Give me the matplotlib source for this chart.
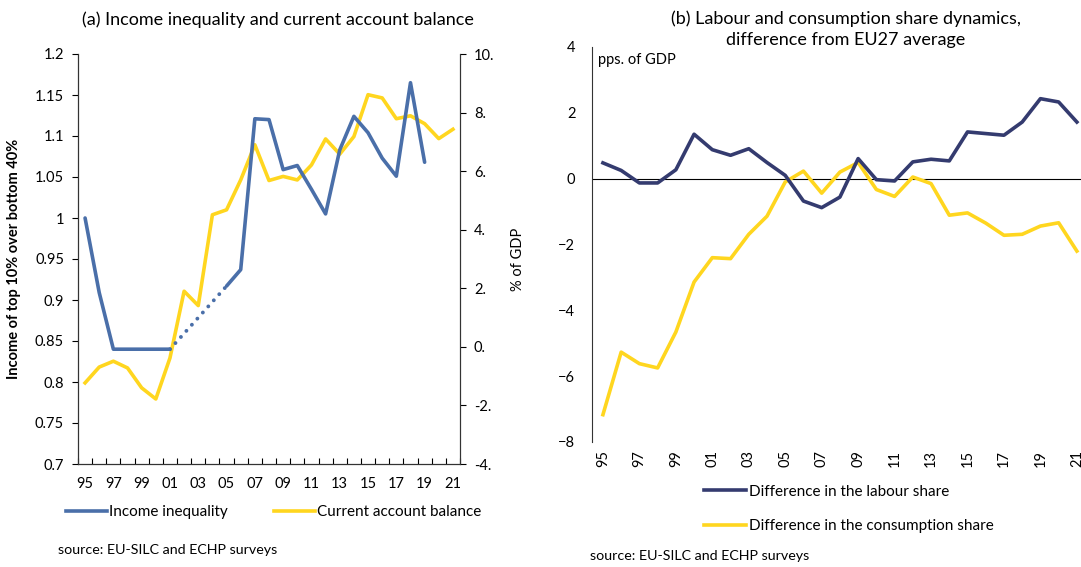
import matplotlib
matplotlib.use("Agg")
import matplotlib.pyplot as plt
import numpy as np
from matplotlib.ticker import FuncFormatter, MultipleLocator

plt.rcParams['font.family'] = ['Lato', 'DejaVu Sans']
plt.rcParams['font.size'] = 10.5

# data
years = ["95", "96", "97", "98", "99", "00", "01", "02", "03", "04", "05", "06", "07",
         "08", "09", "10", "11", "12", "13", "14", "15", "16", "17", "18", "19", "20", "21"]
inequality = [1.0, 0.909, 0.84, 0.84, 0.84, 0.84, 0.84, np.nan, np.nan, np.nan, 0.917, 0.937, 1.121,
              1.12, 1.059, 1.064, 1.035, 1.005, 1.083, 1.124, 1.104, 1.073, 1.051, 1.165, 1.068,
              np.nan, np.nan]
current_account = [-1.23, -0.69, -0.49, -0.72, -1.40, -1.78, -0.38, 1.90, 1.41, 4.51, 4.68, 5.70, 6.90,
                   5.68, 5.82, 5.70, 6.21, 7.10, 6.58, 7.18, 8.61, 8.50, 7.79, 7.89, 7.62, 7.11, 7.43]
labour_diff = [0.48, 0.25, -0.13, -0.13, 0.27, 1.35, 0.88, 0.71, 0.91, 0.49, 0.10, -0.68, -0.88,
               -0.56, 0.61, -0.03, -0.07, 0.51, 0.59, 0.54, 1.42, 1.37, 1.32, 1.72, 2.43, 2.33, 1.72]
consumption_diff = [-7.17, -5.27, -5.62, -5.75, -4.66, -3.14, -2.40, -2.43, -1.69, -1.14, -0.10, 0.23, -0.44,
                    0.20, 0.49, -0.33, -0.54, 0.05, -0.15, -1.11, -1.04, -1.35, -1.72, -1.69, -1.44, -1.34, -2.20]

BLUE = "#4a6fa9"
YELLOW = "#ffd61f"
NAVY = "#343b6f"
LW = 2.6

W, H = 1081, 567
fig = plt.figure(figsize=(W / 100, H / 100), dpi=100)

def box(l, t, r, b):
    return [l / W, 1 - b / H, (r - l) / W, (b - t) / H]

x = np.arange(len(years))
ineq = np.array(inequality)

# ---- panel (a)
ax1 = fig.add_axes(box(78, 54, 460, 464))
ax1.plot(x, ineq, color=BLUE, lw=LW, solid_capstyle='round', zorder=3)
# dotted gap 01 -> 05
gap = [6, 10]
ax1.plot(x[gap], ineq[gap], color=BLUE, lw=2.8, linestyle=(0, (0.01, 2.1)),
         dash_capstyle='round', zorder=3)
ax1.set_ylim(0.7, 1.2)
ax1.set_xlim(-0.5, len(years) - 0.5)
ax1.yaxis.set_major_locator(MultipleLocator(0.05))
ax1.yaxis.set_major_formatter(FuncFormatter(lambda v, p: f"{v:.2f}".rstrip('0').rstrip('.')))
ax1.set_xticks(x[::2])
ax1.set_xticklabels(years[::2])
ax1.set_xticks(np.arange(-0.5, len(years)), minor=True)
ax1.tick_params(axis='x', which='major', length=0, pad=9)
ax1.tick_params(axis='x', which='minor', direction='in', length=4, width=0.8)
ax1.tick_params(axis='y', length=4, width=0.8, pad=6)
ax1.spines['top'].set_visible(False)
for s in ['left', 'bottom', 'right']:
    ax1.spines[s].set_color('#333333')
ax1.set_ylabel("Income of top 10% over bottom 40%", fontweight='bold', labelpad=10)

ax2 = ax1.twinx()
ax2.plot(x, current_account, color=YELLOW, lw=LW, zorder=2)
ax2.set_ylim(-4, 10)
ax2.yaxis.set_major_locator(MultipleLocator(2))
ax2.yaxis.set_major_formatter(FuncFormatter(lambda v, p: f"{int(round(v))}."))
ax2.tick_params(axis='y', length=4, width=0.8, pad=6)
ax2.spines['top'].set_visible(False)
ax2.spines['right'].set_color('#333333')
ax2.set_ylabel("% of GDP", labelpad=12)
ax1.set_zorder(ax2.get_zorder() + 1)
ax1.patch.set_visible(False)

fig.text(278 / W, 1 - 20 / H, "(a) Income inequality and current account balance",
         ha='center', va='center', fontsize=13)
h1 = plt.Line2D([], [], color=BLUE, lw=LW)
h2 = plt.Line2D([], [], color=YELLOW, lw=LW)
fig.legend([h1, h2], ["Income inequality", "Current account balance"],
           loc='center left', bbox_to_anchor=(58 / W, 1 - 512 / H), ncol=2, frameon=False,
           borderpad=0, handlelength=2.7, handletextpad=0.15, columnspacing=3.0, fontsize=11)
fig.text(58 / W, 1 - 550 / H, "source: EU-SILC and ECHP surveys", ha='left', va='center', fontsize=10.3)

# ---- panel (b)
ax3 = fig.add_axes(box(592, 47, 1086, 442))
ax3.plot(x, labour_diff, color=NAVY, lw=LW, zorder=3)
ax3.plot(x, consumption_diff, color=YELLOW, lw=LW, zorder=2)
ax3.axhline(0, color='black', lw=0.8, zorder=1)
ax3.set_ylim(-8, 4)
ax3.set_xlim(-0.6, len(years) - 0.5)
ax3.yaxis.set_major_locator(MultipleLocator(2))
ax3.set_xticks(x[::2])
ax3.set_xticklabels(years[::2], rotation=90)
ax3.tick_params(axis='x', length=0, pad=6)
ax3.tick_params(axis='y', length=0, pad=12)
for s in ['top', 'right', 'bottom']:
    ax3.spines[s].set_visible(False)
ax3.spines['left'].set_color('#333333')
ax3.text(0.012, 0.985, "pps. of GDP", transform=ax3.transAxes, ha='left', va='top')

fig.text(846 / W, 1 - 29 / H, "(b) Labour and consumption share dynamics,\ndifference from EU27 average",
         ha='center', va='center', fontsize=13, linespacing=1.4)
h3 = plt.Line2D([], [], color=NAVY, lw=LW)
h4 = plt.Line2D([], [], color=YELLOW, lw=LW)
fig.legend([h3, h4], ["Difference in the labour share", "Difference in the consumption share"],
           loc='upper left', bbox_to_anchor=(696 / W, 1 - 477 / H), ncol=1, frameon=False,
           borderpad=0, handlelength=2.8, handletextpad=0.15, labelspacing=1.35, fontsize=11)
fig.text(590 / W, 1 - 556 / H, "source: EU-SILC and ECHP surveys", ha='left', va='center', fontsize=10.3)

fig.savefig("out.png", dpi=100)
